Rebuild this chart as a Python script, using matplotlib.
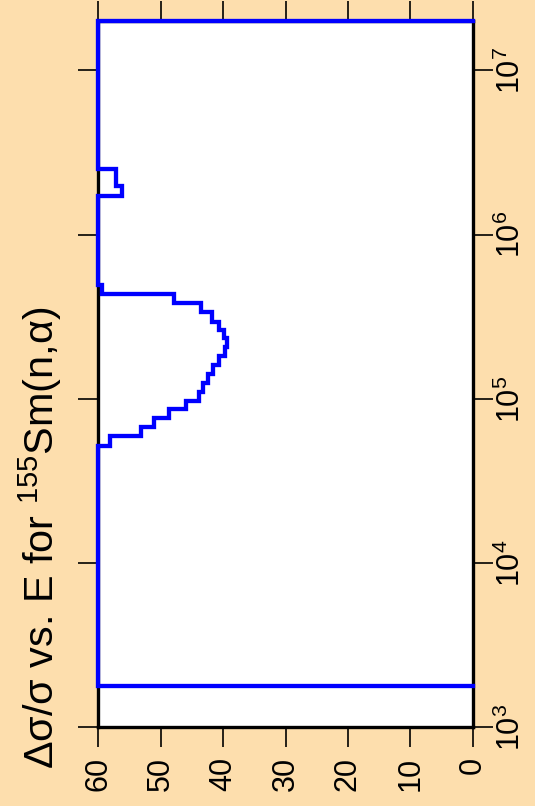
import numpy as np
import matplotlib
matplotlib.use("Agg")
import matplotlib.pyplot as plt

plt.rcParams['font.family'] = ['Liberation Sans', 'DejaVu Sans']
plt.rcParams['mathtext.fontset'] = 'custom'
plt.rcParams['mathtext.rm'] = 'Liberation Sans'
plt.rcParams['mathtext.it'] = 'Liberation Sans:italic'
plt.rcParams['mathtext.bf'] = 'Liberation Sans:bold'

# Data: bin edges (eV) and relative uncertainty (%) in each bin
edges = [1.8e3, 5.2e4, 5.96e4, 6.73e4, 7.64e4, 8.65e4, 9.77e4, 1.107e5, 1.256e5,
         1.419e5, 1.611e5, 1.824e5, 2.061e5, 2.339e5, 2.624e5, 2.951e5, 3.365e5,
         3.819e5, 4.345e5, 4.932e5, 1.72e6, 1.98e6, 2.52e6, 2.0e7]
values = [60, 58.1, 53.1, 51.0, 48.6, 45.9, 43.9, 43.2, 42.4, 41.6, 40.7, 39.7,
          39.3, 39.9, 40.7, 41.7, 43.5, 47.9, 59.4, 60, 56.1, 57.1, 60]

value_ticks = [60, 50, 40, 30, 20, 10, 0]
energy_ticks = [1e3, 1e4, 1e5, 1e6, 1e7]
energy_labels = [r'$10^{3}$', r'$10^{4}$', r'$10^{5}$', r'$10^{6}$', r'$10^{7}$']
title = 'Δσ/σ vs. E for $^{155}$Sm(n,α)'

bg = '#FDDEAD'
fig = plt.figure(figsize=(5.35, 8.06), dpi=100, facecolor=bg)
ax = fig.add_axes([0.1832, 0.0974, 0.7009, 0.8766])
ax.set_facecolor('white')

# step path (rotated chart: x = uncertainty, y = energy)
xs = [0.0]
ys = [edges[0]]
for i, v in enumerate(values):
    xs += [v, v]
    ys += [edges[i], edges[i + 1]]
xs.append(0.0)
ys.append(edges[-1])
ax.plot(xs, ys, color='#0000FF', lw=3.1, clip_on=False, zorder=5,
        solid_joinstyle='miter')

ax.set_yscale('log')
ax.set_ylim(1e3, 2e7)
ax.set_xlim(60, 0)

for s in ax.spines.values():
    s.set_linewidth(2.4)
    s.set_color('black')

ax.set_xticks(value_ticks)
ax.set_xticklabels([str(v) for v in value_ticks], rotation=90, fontsize=22)
ax.tick_params(axis='x', which='major', direction='out', length=14.5, width=1.2,
               top=True, bottom=True, labeltop=False, labelbottom=True, pad=7)

ax.set_yticks(energy_ticks)
ax.set_yticklabels(energy_labels, rotation=90, fontsize=22, va='center')
ax.yaxis.set_minor_locator(matplotlib.ticker.NullLocator())
ax.tick_params(axis='y', which='major', direction='out', length=14.5, width=1.2,
               left=True, right=True, labelleft=False, labelright=True, pad=2)

fig.text(0.075, 1 - 538 / 806, title, rotation=90, fontsize=29.8,
         ha='center', va='center')

fig.savefig('out.png', dpi=100, facecolor=bg)
